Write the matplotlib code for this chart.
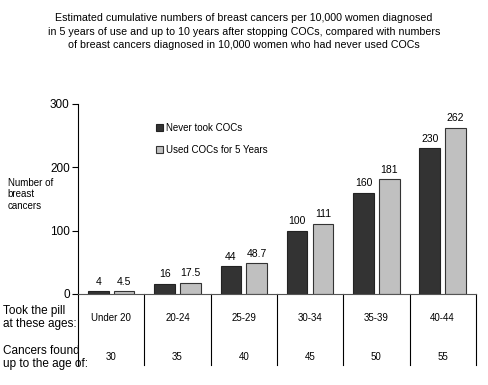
import numpy as np
import matplotlib.pyplot as plt

plt.rcParams['font.family'] = ['Liberation Sans', 'DejaVu Sans']

ages = ['Under 20', '20-24', '25-29', '30-34', '35-39', '40-44']
found_by = ['30', '35', '40', '45', '50', '55']
never = [4, 16, 44, 100, 160, 230]
used = [4.5, 17.5, 48.7, 111, 181, 262]
never_lbl = ['4', '16', '44', '100', '160', '230']
used_lbl = ['4.5', '17.5', '48.7', '111', '181', '262']

fig = plt.figure(figsize=(4.88, 3.85), dpi=100)
ax = fig.add_axes([0.160, 0.2364, 0.815, 0.494])

x = np.arange(len(ages))
w = 0.31
b1 = ax.bar(x - 0.195, never, w, color='#333333', edgecolor='#222222', lw=0.8, label='Never took COCs')
b2 = ax.bar(x + 0.195, used, w, color='#c0c0c0', edgecolor='#333333', lw=0.8, label='Used COCs for 5 Years')

for xi, v, t in zip(x - 0.195, never, never_lbl):
    ax.text(xi, v + 7, t, ha='center', va='bottom', fontsize=7.5)
for xi, v, t in zip(x + 0.195, used, used_lbl):
    ax.text(xi, v + 7, t, ha='center', va='bottom', fontsize=7.5)

ax.set_xlim(-0.5, 5.5)
ax.set_ylim(0, 300)
ax.set_yticks([0, 100, 200, 300])
ax.tick_params(axis='y', labelsize=8.5, length=4, width=0.8, pad=2)
ax.set_xticks([])
for s in ['top', 'right']:
    ax.spines[s].set_visible(False)
ax.spines['left'].set_linewidth(0.8)
ax.spines['bottom'].set_linewidth(0.8)
ax.spines['bottom'].set_color('#555555')

# table underneath
tr = ax.get_xaxis_transform()
for b in np.arange(-0.5, 6.0, 1.0):
    ax.plot([b, b], [0, -0.374], transform=tr, color='black', lw=0.8, clip_on=False)
for xi, a, f in zip(x, ages, found_by):
    ax.text(xi, -0.126, a, transform=tr, ha='center', va='center', fontsize=7)
    ax.text(xi, -0.33, f, transform=tr, ha='center', va='center', fontsize=7)

fig.text(0.006, 0.176, 'Took the pill\nat these ages:', ha='left', va='center', fontsize=8.5, linespacing=1.15)
fig.text(0.006, 0.071, 'Cancers found\nup to the age of:', ha='left', va='center', fontsize=8.5, linespacing=1.15)
fig.text(0.016, 0.495, 'Number of\nbreast\ncancers', ha='left', va='center', fontsize=7, linespacing=1.15)

fig.text(0.5, 0.918, 'Estimated cumulative numbers of breast cancers per 10,000 women diagnosed\n'
         'in 5 years of use and up to 10 years after stopping COCs, compared with numbers\n'
         'of breast cancers diagnosed in 10,000 women who had never used COCs',
         ha='center', va='center', fontsize=7.7, linespacing=1.4)

ax.legend(loc='upper left', bbox_to_anchor=(0.175, 0.945), frameon=False, fontsize=7,
          handlelength=0.7, handleheight=0.7, handletextpad=0.3, labelspacing=1.25)

fig.savefig('out.png', dpi=100)
